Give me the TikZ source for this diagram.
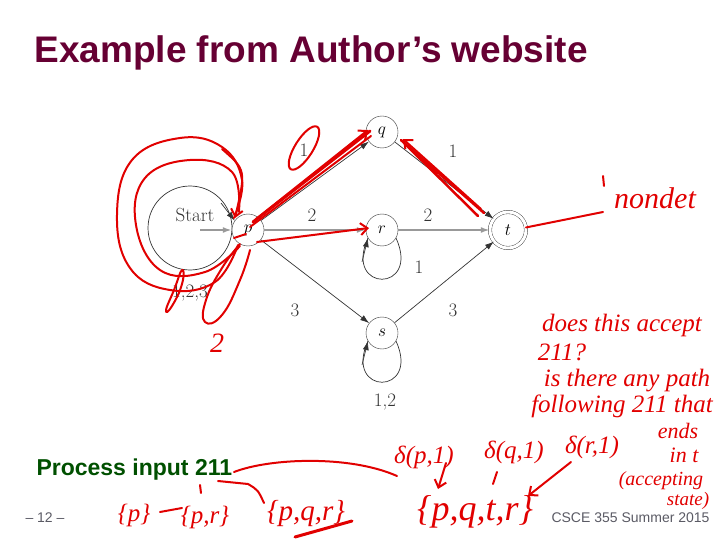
\documentclass[tikz,border=0pt]{standalone}
\usepackage{fontspec}
\usetikzlibrary{arrows.meta}
\newfontfamily\slidefont{Liberation Sans}
\newfontfamily\handfont{Liberation Serif}
\definecolor{titlered}{RGB}{102,0,51}
\definecolor{slidegreen}{RGB}{0,80,0}
\definecolor{footgray}{RGB}{90,90,100}
\definecolor{ink}{RGB}{225,0,0}

\tikzset{
  state/.style={draw=black!80, circle, minimum size=32pt, inner sep=0pt, fill=white,
    font=\fontsize{19}{19}\selectfont},
  accstate/.style={state, minimum size=36pt, double, double distance=3pt},
  edge/.style={draw=black!80, line width=0.7pt, -{Latex[length=9pt,width=6pt]}},
  greyedge/.style={edge, draw=black!40, line width=2.2pt},
  elabel/.style={font=\fontsize{19}{19}\selectfont, text=black!80},
  pen/.style={draw=ink, line width=2pt, line cap=round, line join=round},
  penarrow/.style={pen, -{Straight Barb[length=7pt,width=12pt]}},
  hand/.style={text=ink, inner sep=0pt, font=\handfont\itshape\fontsize{25}{27}\selectfont}
}

\begin{document}
\begin{tikzpicture}[x=1pt, y=-1pt]

\useasboundingbox (0,0) rectangle (720,540);

% slide texts
\node[anchor=base west, text=titlered, font=\slidefont\bfseries\fontsize{37}{40}\selectfont]
  (title) at (31,63) {Example from Author’s website};
\node[anchor=base west, text=slidegreen, font=\slidefont\bfseries\fontsize{23}{25}\selectfont]
  (process) at (33,475) {Process input 211};
\node[anchor=base west, text=footgray, font=\slidefont\fontsize{14}{16}\selectfont]
  (page) at (22,522) {– 12 –};
\node[anchor=base west, text=footgray, font=\slidefont\fontsize{14}{16}\selectfont]
  (course) at (548,522) {CSCE 355 Summer 2015};

% automaton
\draw[draw=black!80, line width=0.7pt] (190,228) circle[radius=42];
\node[font=\fontsize{19}{19}\selectfont, text=black!80] (start) at (195,215) {Start};
\coordinate (startfoot) at (200,230);
\coordinate (ploopend) at (221,203);

\draw[draw=black!80, line width=0.7pt] (396,238) .. controls (421,293) and (343,293) .. (368,238);
\draw[draw=black!80, line width=0.7pt] (396,341) .. controls (421,396) and (343,396) .. (368,341);

\node[state] (p) at (248,230) {$p$};
\node[state] (q) at (382,132) {$q$};
\node[state] (r) at (382,230) {$r$};
\node[state] (s) at (382,333) {$s$};
\node[accstate] (t) at (508,230) {$t$};

\draw[greyedge] (startfoot) -- (p);
\draw[edge] (ploopend) -- (p.145);
\draw[edge] (p) -- (q);
\draw[greyedge] (p) -- (r);
\draw[edge] (p) -- (s);
\draw[edge] (q) -- (t);
\draw[greyedge] (r) -- (t);
\draw[edge] (s) -- (t);
\draw[edge] (362,262) -- (r.-150);
\draw[edge] (362,365) -- (s.-150);

\node[elabel] (lpp) at (190,293) {1,2,3};
\node[elabel] (lpq) at (304,150) {1};
\node[elabel] (lqt) at (453,151) {1};
\node[elabel] (lpr) at (312,215) {2};
\node[elabel] (lrt) at (428,215) {2};
\node[elabel] (lrr) at (419,267) {1};
\node[elabel] (lps) at (295,310) {3};
\node[elabel] (lst) at (453,310) {3};
\node[elabel] (lss) at (385,402) {1,2};

% red pen notes
\draw[pen, line width=3pt] (253,222) -- (370,131);
\draw[pen] (250,227) -- (371,136);
\draw[penarrow] (256,219) -- (368,130);
\draw[pen, line width=2.5pt] (484,213) -- (401,140) -- (478,216);
\draw[penarrow] (481,209) -- (403,139);
\draw[penarrow] (257,242) -- (369,228);

\draw[pen] plot[smooth, tension=0.7] coordinates {(234,218) (242,180) (222,147) (180,138) (132,160) (117,215) (130,268) (170,290) (215,282) (238,245)};
\draw[-{Straight Barb[length=7pt,width=12pt]}, pen] (222,149) .. controls (246,170) .. (235,218);
\draw[pen] plot[smooth, tension=0.7] coordinates {(239,212) (232,172) (190,160) (145,178) (136,225) (160,270) (205,272) (240,246)};
\draw[pen] plot[smooth, tension=0.8] coordinates {(240,244) (222,268) (206,300) (205,322) (222,315) (240,280) (250,250)};
\draw[pen] plot[smooth cycle, tension=0.9] coordinates {(182,270) (174,290) (166,310) (172,306) (182,284)};
\draw[pen] (234,238) -- (246,234);
\node[hand, font=\handfont\itshape\fontsize{28}{28}\selectfont] (two) at (217,343) {2};

\draw[pen, rotate around={58:(304,148)}] (304,148) ellipse (25 and 9);

\draw[pen] (t.8) -- (603,212);
\draw[pen] (603,176) -- (604,186);
\node[hand, font=\handfont\itshape\fontsize{30}{32}\selectfont] (nondet) at (655,198) {nondet};

\node[hand] (does) at (622,325) {does this accept};
\node[hand] (qmark) at (562,352) {211?};
\node[hand] (path) at (627,381) {is there any path};
\node[hand] (follow) at (622,406) {following 211 that};
\node[hand, font=\handfont\itshape\fontsize{22}{24}\selectfont] (ends) at (678,431) {ends};
\node[hand, font=\handfont\itshape\fontsize{22}{24}\selectfont] (int) at (684,455) {in t};
\node[hand, font=\handfont\itshape\fontsize{20}{22}\selectfont] (acc) at (661,481) {(accepting};
\node[hand, font=\handfont\itshape\fontsize{19}{21}\selectfont] (state) at (688,501) {state)};

\node[hand] (sp) at (134,515) {\{p\}};
\draw[pen] (160,512) -- (182,508);
\node[hand] (spr) at (205,517) {\{p,r\}};
\draw[pen] (200,485) -- (201,493);
\node[hand, font=\handfont\itshape\fontsize{29}{30}\selectfont] (spqr) at (306,514) {\{p,q,r\}};
\draw[pen, line width=3pt] (295,537) -- (352,521);
\draw[pen] (234,472) .. controls (270,458) and (350,455) .. (397,476);
\draw[pen] (218,481) -- (248,484) .. controls (258,490) .. (264,503);

\node[hand] (dp) at (424,457) {δ(p,1)};
\draw[penarrow] (446,463) -- (438,489);
\node[hand] (dq) at (514,452) {δ(q,1)};
\draw[pen] (497,472) -- (493,484);
\node[hand] (dr) at (592,447) {δ(r,1)};
\draw[penarrow] (571,462) -- (528,496);
\node[hand, font=\handfont\itshape\fontsize{36}{38}\selectfont] (spqtr) at (475,512) {\{p,q,t,r\}};

\end{tikzpicture}
\end{document}
